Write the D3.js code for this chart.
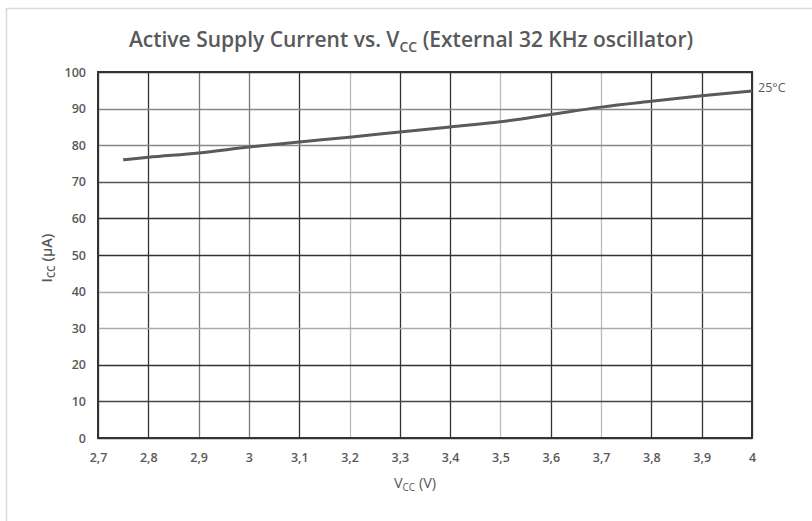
<!DOCTYPE html>
<html><head><meta charset="utf-8">
<script src="https://cdn.jsdelivr.net/npm/d3@7"></script>
<style>body{margin:0;background:#fff}svg{display:block}</style>
</head><body>
<svg id="c" width="812" height="521"></svg>
<script>
const vcc = [2.75, 2.8, 2.9, 3.0, 3.1, 3.2, 3.3, 3.4, 3.5, 3.6, 3.7, 3.8, 3.9, 4.0];
const icc = [76.0, 76.7, 77.9, 79.5, 80.9, 82.2, 83.6, 85.0, 86.4, 88.4, 90.4, 92.0, 93.5, 94.8];
const xTicks = [2.7, 2.8, 2.9, 3.0, 3.1, 3.2, 3.3, 3.4, 3.5, 3.6, 3.7, 3.8, 3.9, 4.0];
const yTicks = [0, 10, 20, 30, 40, 50, 60, 70, 80, 90, 100];
const seriesLabel = "25°C";

const svg = d3.select("#c");
const W = 812, H = 521;
const m = {l: 98, r: 60, t: 72, b: 83};
const x = d3.scaleLinear().domain([2.7, 4.0]).range([m.l, W - m.r]);
const y = d3.scaleLinear().domain([0, 100]).range([H - m.b, m.t]);
const txt = "#595959";
const font = "'Open Sans', 'Noto Sans', sans-serif";

// outer frame
svg.append("rect").attr("x", 6.5).attr("y", 8.5).attr("width", 900).attr("height", 900)
  .attr("fill", "none").attr("stroke", "#d9d9d9").attr("stroke-width", 1.5);

// grid
const vShade = ["#333", "#333", "#777", "#777", "#333", "#bbb", "#333", "#333", "#bbb", "#333", "#bbb", "#333", "#333", "#333"];
const hShade = ["#333", "#444", "#333", "#aaa", "#aaa", "#333", "#333", "#555", "#888", "#888", "#333"];
const g = svg.append("g");
xTicks.forEach((t, i) => {
  g.append("line").attr("x1", Math.round(x(t)) + 0.5).attr("x2", Math.round(x(t)) + 0.5)
    .attr("y1", y(0)).attr("y2", y(100)).attr("stroke", vShade[i]).attr("stroke-width", 1.3);
});
yTicks.forEach((t, i) => {
  g.append("line").attr("x1", x(2.7)).attr("x2", x(4.0))
    .attr("y1", Math.round(y(t)) + 0.5).attr("y2", Math.round(y(t)) + 0.5)
    .attr("stroke", hShade[i]).attr("stroke-width", 1.3);
});
// plot border
svg.append("rect").attr("x", x(2.7)).attr("y", y(100)).attr("width", x(4) - x(2.7)).attr("height", y(0) - y(100))
  .attr("fill", "none").attr("stroke", "#333").attr("stroke-width", 2);

// axes labels
const xa = svg.append("g").attr("transform", `translate(0,${y(0)})`)
  .call(d3.axisBottom(x).tickValues(xTicks).tickSize(0).tickPadding(15)
    .tickFormat(d => d3.format("")(+d.toFixed(1)).replace(".", ",")));
const ya = svg.append("g").attr("transform", `translate(${x(2.7)},0)`)
  .call(d3.axisLeft(y).tickValues(yTicks).tickSize(0).tickPadding(12));
[xa, ya].forEach(a => {
  a.select(".domain").remove();
  a.selectAll("text").attr("fill", txt).attr("font-family", font).attr("font-size", 12.5).attr("font-weight", 600);
});

// line
const line = d3.line().x((d, i) => x(vcc[i])).y(d => y(d)).curve(d3.curveMonotoneX);
svg.append("path").datum(icc).attr("d", line).attr("fill", "none")
  .attr("stroke", "#5a5a5a").attr("stroke-width", 3).attr("stroke-linecap", "butt");

svg.append("text").attr("x", x(4.0) + 6).attr("y", y(icc[icc.length - 1]) + 1)
  .attr("fill", txt).attr("font-family", font).attr("font-size", 12.5).text(seriesLabel);

// title
const title = svg.append("text").attr("x", 411).attr("y", 47).attr("text-anchor", "middle")
  .attr("fill", txt).attr("font-family", font).attr("font-size", 21).attr("font-weight", 600);
title.append("tspan").text("Active Supply Current vs. V");
title.append("tspan").attr("font-size", 14).attr("dy", 5).text("CC");
title.append("tspan").attr("dy", -5).text(" (External 32 KHz oscillator)");

// x title
const xt = svg.append("text").attr("x", 415).attr("y", 488).attr("text-anchor", "middle")
  .attr("fill", txt).attr("font-family", font).attr("font-size", 14.5);
xt.append("tspan").text("V");
xt.append("tspan").attr("font-size", 10).attr("dy", 3).text("CC");
xt.append("tspan").attr("dy", -3).text(" (V)");

// y title
const yt = svg.append("text").attr("transform", `translate(52,258) rotate(-90)`).attr("text-anchor", "middle")
  .attr("fill", txt).attr("font-family", font).attr("font-size", 14.5).attr("font-weight", 600);
yt.append("tspan").text("I");
yt.append("tspan").attr("font-size", 10).attr("dy", 3).text("CC");
yt.append("tspan").attr("dy", -3).text(" (µA)");
</script>
</body></html>
